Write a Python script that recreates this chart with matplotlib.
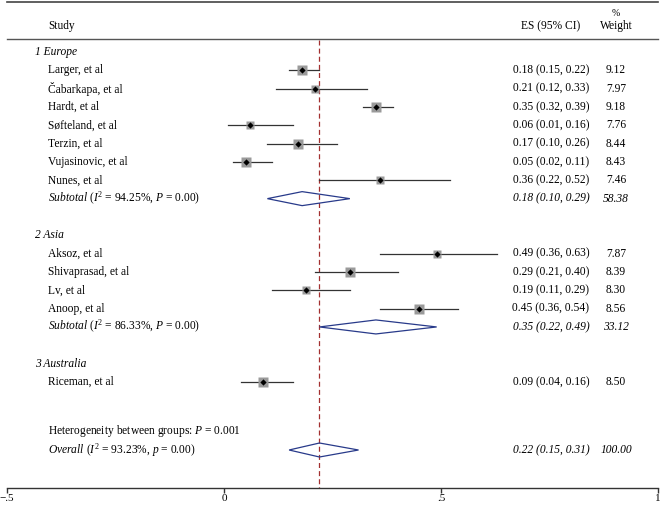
import matplotlib
matplotlib.use("Agg")
import matplotlib.pyplot as plt
from matplotlib.patches import Polygon

plt.rcParams['font.family'] = ['Liberation Serif', 'DejaVu Serif']
plt.rcParams['mathtext.fontset'] = 'custom'
plt.rcParams['mathtext.rm'] = 'Liberation Serif'
plt.rcParams['mathtext.it'] = 'Liberation Serif:italic'

# ---------------- data ----------------
groups = ["1 Europe", "2 Asia", "3 Australia"]

europe_studies = ["Larger, et al", "Čabarkapa, et al", "Hardt, et al", "Søfteland, et al",
                  "Terzin, et al", "Vujasinovic, et al", "Nunes, et al"]
europe_es = [0.18, 0.21, 0.35, 0.06, 0.17, 0.05, 0.36]
europe_lo = [0.15, 0.12, 0.32, 0.01, 0.10, 0.02, 0.22]
europe_hi = [0.22, 0.33, 0.39, 0.16, 0.26, 0.11, 0.52]
europe_w = [9.12, 7.97, 9.18, 7.76, 8.44, 8.43, 7.46]
europe_sub = [0.18, 0.10, 0.29, 58.38]
europe_i2 = "94.25%"

asia_studies = ["Aksoz, et al", "Shivaprasad, et al", "Lv, et al", "Anoop, et al"]
asia_es = [0.49, 0.29, 0.19, 0.45]
asia_lo = [0.36, 0.21, 0.11, 0.36]
asia_hi = [0.63, 0.40, 0.29, 0.54]
asia_w = [7.87, 8.39, 8.30, 8.56]
asia_sub = [0.35, 0.22, 0.49, 33.12]
asia_i2 = "86.33%"

aus_studies = ["Riceman, et al"]
aus_es = [0.09]
aus_lo = [0.04]
aus_hi = [0.16]
aus_w = [8.50]

overall = [0.22, 0.15, 0.31, 100.00]
overall_i2 = "93.23%"
het_p = "0.001"

xticks = [-0.5, 0, 0.5, 1]
xticklabels = ["\u2212.5", "0", ".5", "1"]

# ---------------- layout ----------------
W, H = 660, 505
fig = plt.figure(figsize=(W / 100, H / 100), dpi=100)
ax_left, ax_right = 7, 658
ax_top, ax_bottom = 0, 488
ax = fig.add_axes([ax_left / W, (H - ax_bottom) / H, (ax_right - ax_left) / W, (ax_bottom - ax_top) / H])
ax.set_xlim(-0.5, 1.0)
ax.set_ylim(ax_bottom, ax_top)  # y in pixel-like units, downward

def px2x(px):
    return -0.5 + (px - ax_left) / (ax_right - ax_left) * 1.5

for s in ["top", "right", "left"]:
    ax.spines[s].set_visible(False)
ax.spines["bottom"].set_color("#333333")
ax.spines["bottom"].set_linewidth(1.0)
ax.set_yticks([])
ax.set_xticks(xticks)
ax.set_xticklabels(xticklabels, fontsize=8)
ax.tick_params(axis="x", length=3.5, width=1, color="#333333", pad=0.5)

FS = 8.3
x_label = px2x(48)
x_group = px2x(35)
x_es = px2x(551)
x_w = px2x(616)

# header lines
ax.plot([-0.5, 1.0], [1.5, 1.5], color="#444444", lw=1.2, clip_on=False)
ax.plot([-0.5, 1.0], [38.5, 38.5], color="#555555", lw=1.0, clip_on=False)
ax.text(x_label, 26, "Study", fontsize=FS, va="center", ha="left")
ax.text(x_es, 26, "ES (95% CI)", fontsize=FS, va="center", ha="center")
ax.text(x_w, 26, "Weight", fontsize=FS, va="center", ha="center")
ax.text(x_w, 13, "%", fontsize=7, va="center", ha="center")

# overall estimate line
ax.plot([overall[0], overall[0]], [40, ax_bottom], color="#a33030", lw=0.9,
        ls=(0, (4, 2.5)), zorder=1)

row0 = 52
step = 18.33

def study_row(y, name, es, lo, hi, w):
    ax.text(x_label, y, name, fontsize=FS, va="center", ha="left")
    ax.plot([lo, hi], [y, y], color="#333333", lw=0.9, zorder=2)
    size = 6.0 + (w - 7.4) * 0.5
    ax.plot([es], [y], marker="s", ms=size, color="#9a9a9a", mec="none", zorder=3)
    ax.plot([es], [y], marker="D", ms=3.2, color="black", mec="none", zorder=4)
    ax.text(x_es, y, f"{es:.2f} ({lo:.2f}, {hi:.2f})", fontsize=FS, va="center", ha="center")
    ax.text(x_w, y, f"{w:.2f}", fontsize=FS, va="center", ha="center")

def diamond(y, es, lo, hi):
    poly = Polygon([[lo, y], [es, y - 7], [hi, y], [es, y + 7]], closed=True,
                   fill=False, ec="#283a8a", lw=0.9, zorder=3)
    ax.add_patch(poly)

def sub_row(y, label, vals, i2, pchar="P"):
    es, lo, hi, w = vals
    ax.text(x_label, y, r"$\it{" + label + "}$ ($I^2$ = " + i2 + ", $" + pchar + "$ = 0.00)",
            fontsize=FS, va="center", ha="left")
    diamond(y, es, lo, hi)
    ax.text(x_es, y, f"{es:.2f} ({lo:.2f}, {hi:.2f})", fontsize=FS, va="center",
            ha="center", style="italic")
    ax.text(x_w, y, f"{w:.2f}", fontsize=FS, va="center", ha="center", style="italic")

blocks = [
    (groups[0], europe_studies, europe_es, europe_lo, europe_hi, europe_w, europe_sub, europe_i2),
    (groups[1], asia_studies, asia_es, asia_lo, asia_hi, asia_w, asia_sub, asia_i2),
    (groups[2], aus_studies, aus_es, aus_lo, aus_hi, aus_w, None, None),
]

i = 0
for g, names, es, lo, hi, w, sub, i2 in blocks:
    ax.text(x_group, row0 + i * step, g, fontsize=FS, va="center", ha="left", style="italic")
    i += 1
    for n, e, l, h, ww in zip(names, es, lo, hi, w):
        study_row(row0 + i * step, n, e, l, h, ww)
        i += 1
    if sub is not None:
        sub_row(row0 + i * step, "Subtotal", sub, i2)
        i += 1
    i += 1

y_het = 431
y_ov = 450
ax.text(x_label, y_het, "Heterogeneity between groups: $P$ = " + het_p, fontsize=FS,
        va="center", ha="left")
sub_row(y_ov, "Overall", overall, overall_i2, pchar="p")

fig.savefig("out.png", dpi=100)
